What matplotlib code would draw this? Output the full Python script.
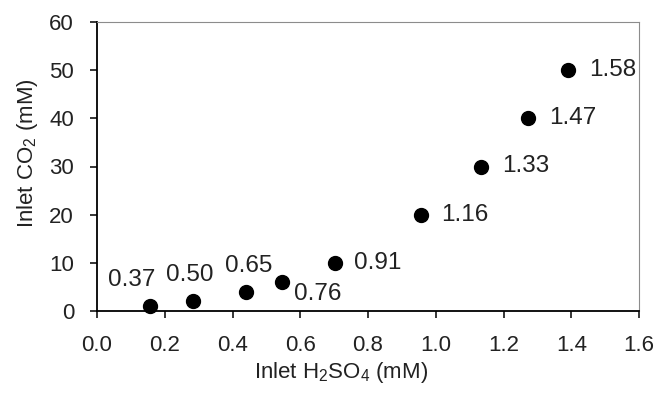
import matplotlib
matplotlib.use("Agg")
import matplotlib.pyplot as plt

plt.rcParams['font.family'] = ['Liberation Sans', 'DejaVu Sans']
plt.rcParams['mathtext.default'] = 'regular'

# data
h2so4 = [0.156, 0.284, 0.44, 0.545, 0.703, 0.955, 1.133, 1.272, 1.39]
co2 = [1, 2, 4, 6, 10, 20, 30, 40, 50]
labels = ["0.37", "0.50", "0.65", "0.76", "0.91", "1.16", "1.33", "1.47", "1.58"]

# label offsets in pixels (dx, dy, ha)
offsets = [(-18, 26, 'center'), (-3, 26, 'center'), (3, 26, 'center'),
           (36, -12, 'center'), (19, 0, 'left'), (21, 0, 'left'),
           (21, 0, 'left'), (21, 0, 'left'), (21, 0, 'left')]

fig = plt.figure(figsize=(6.7, 3.94), dpi=100)
ax = fig.add_axes([97/670, 1 - 311/394, (639 - 97)/670, (311 - 22)/394])

ax.scatter(h2so4, co2, s=100, color='black', zorder=3, clip_on=False)

for x, y, lab, (dx, dy, ha) in zip(h2so4, co2, labels, offsets):
    ax.annotate(lab, (x, y), xytext=(dx, dy), textcoords='offset pixels',
                ha=ha, va='center', fontsize=17.5, color='#222222')

ax.set_xlim(0, 1.6)
ax.set_ylim(0, 60)
ax.set_xticks([0.0, 0.2, 0.4, 0.6, 0.8, 1.0, 1.2, 1.4, 1.6])
ax.set_xticklabels(["0.0", "0.2", "0.4", "0.6", "0.8", "1.0", "1.2", "1.4", "1.6"])
ax.set_yticks([0, 10, 20, 30, 40, 50, 60])

ax.tick_params(axis='both', labelsize=16, colors='black', labelcolor='#222222',
               length=5, width=1.1, direction='out')
ax.tick_params(axis='x', pad=12)
ax.tick_params(axis='y', pad=11.5)

for s in ['left', 'bottom']:
    ax.spines[s].set_color('black')
    ax.spines[s].set_linewidth(1.3)
for s in ['top', 'right']:
    ax.spines[s].set_color('#8c8c8c')
    ax.spines[s].set_linewidth(0.8)

ax.set_xlabel('Inlet H$_2$SO$_4$ (mM)', fontsize=16, color='#222222')
ax.set_ylabel('Inlet CO$_2$ (mM)', fontsize=16, color='#222222')
ax.xaxis.set_label_coords(0.45, -0.17)
ax.yaxis.set_label_coords(-0.105, 0.547)

fig.savefig('out.png', dpi=100)
